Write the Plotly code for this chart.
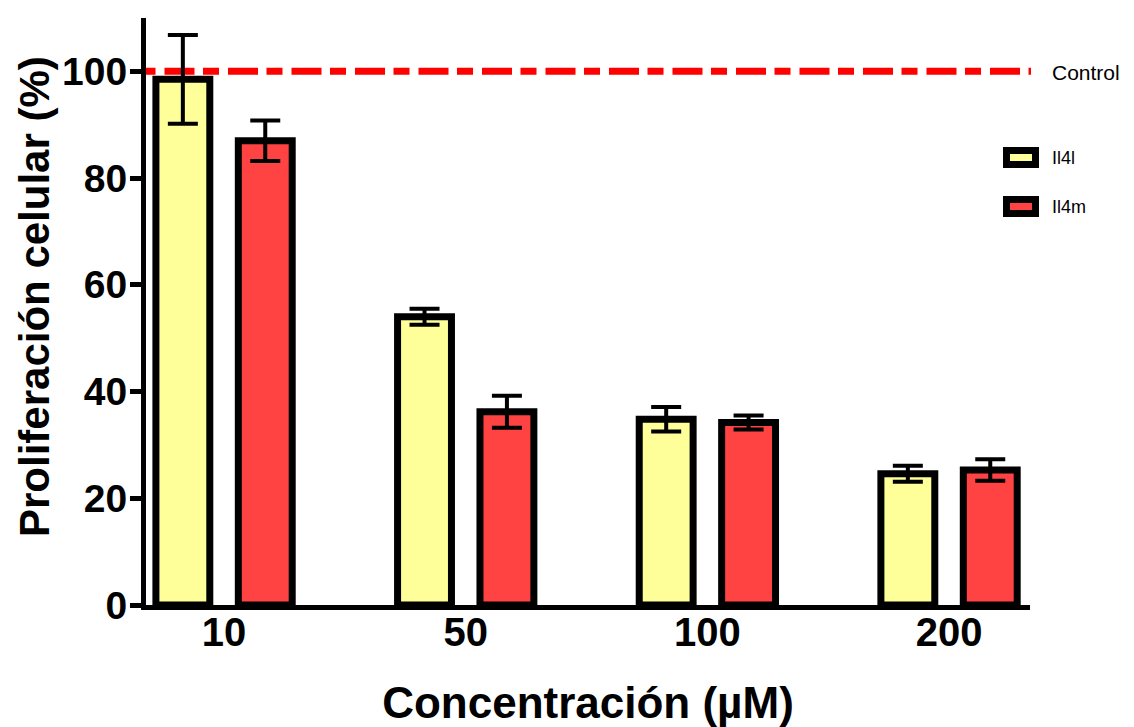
import plotly.graph_objects as go

concentraciones = ["10", "50", "100", "200"]
il4l_media = [98.5, 54.0, 34.8, 24.6]
il4l_error = [8.3, 1.5, 2.3, 1.5]
il4m_media = [87.0, 36.2, 34.2, 25.3]
il4m_error = [3.8, 3.0, 1.3, 2.0]
control_valor = 100
y_ticks = [0, 20, 40, 60, 80, 100]

FONT = "Liberation Sans"
YELLOW = "#FFFF99"
RED = "#FF4343"

# the page body has an 8px margin; work in reference pixels minus that offset
OFF = 8
W, H = 1134 - OFF, 727 - OFF
L, R, T, B = 146 - OFF, 1030 - OFF, 18 - OFF, 605 - OFF


def px(x):
    return (x - OFF - L) / (R - L)


def py(y):
    return (B - (y - OFF)) / (B - T)


fig = go.Figure()
fig.add_trace(go.Bar(
    x=concentraciones, y=il4l_media, name="Il4l",
    marker=dict(color=YELLOW, line=dict(color="black", width=7)),
    error_y=dict(type="data", array=il4l_error, color="black", thickness=4, width=15),
    showlegend=False,
))
fig.add_trace(go.Bar(
    x=concentraciones, y=il4m_media, name="Il4m",
    marker=dict(color=RED, line=dict(color="black", width=7)),
    error_y=dict(type="data", array=il4m_error, color="black", thickness=4, width=15),
    showlegend=False,
))

shapes = [
    # Control reference line (continues into the right margin up to its label)
    dict(type="line", xref="paper", yref="y", x0=0, x1=px(1031), y0=control_valor, y1=control_valor,
         line=dict(color="#FF0000", width=7, dash="9.5px,9px,30px,8.5px,6.5px,0px"), layer="below"),
    # legend: Il4l
    dict(type="rect", xref="paper", yref="paper", x0=px(1006.5), x1=px(1035.5), y0=py(150.5), y1=py(164.5),
         fillcolor=YELLOW, line=dict(color="black", width=7)),
    # legend: Il4m
    dict(type="rect", xref="paper", yref="paper", x0=px(1006.5), x1=px(1035.5), y0=py(199.5), y1=py(213.5),
         fillcolor=RED, line=dict(color="black", width=7)),
]

annotations = [
    dict(text="Control", xref="paper", yref="paper", x=px(1050), y=py(73), xanchor="left", yanchor="middle",
         showarrow=False, font=dict(family=FONT, size=21, color="black")),
    dict(text="Il4l", xref="paper", yref="paper", x=px(1050), y=py(158), xanchor="left", yanchor="middle",
         showarrow=False, font=dict(family=FONT, size=18, color="black")),
    dict(text="Il4m", xref="paper", yref="paper", x=px(1050), y=py(207), xanchor="left", yanchor="middle",
         showarrow=False, font=dict(family=FONT, size=18, color="black")),
    # y-axis title
    dict(text="Proliferación celular (%)", xref="paper", yref="paper", x=px(34), y=py(297),
         xanchor="center", yanchor="middle", textangle=-90, showarrow=False,
         font=dict(family=FONT, size=42, weight="bold", color="black")),
]

fig.update_layout(
    width=W, height=H,
    margin=dict(l=L, r=W - R, t=T, b=H - B, pad=0, autoexpand=False),
    paper_bgcolor="white", plot_bgcolor="white",
    barmode="group", bargap=0.318, bargroupgap=0.346,
    showlegend=False,
    shapes=shapes, annotations=annotations,
    font=dict(family=FONT, color="black"),
)
fig.update_xaxes(
    type="category", range=[-0.323, 3.335], automargin=False,
    showline=True, linecolor="black", linewidth=5,
    ticks="", showgrid=False, zeroline=False,
    ticklabelstandoff=-12,
    tickfont=dict(family=FONT, size=40, weight="bold"),
    title=dict(text="Concentración (µM)", font=dict(family=FONT, size=44, weight="bold"), standoff=37),
)
fig.update_yaxes(
    range=[0, 110], tickvals=y_ticks, automargin=False,
    showline=True, linecolor="black", linewidth=5,
    ticks="outside", ticklen=11, tickwidth=5, tickcolor="black",
    showgrid=False, zeroline=False,
    ticklabelstandoff=-5,
    tickfont=dict(family=FONT, size=39, weight="bold"),
)

fig.write_html("out.html")
